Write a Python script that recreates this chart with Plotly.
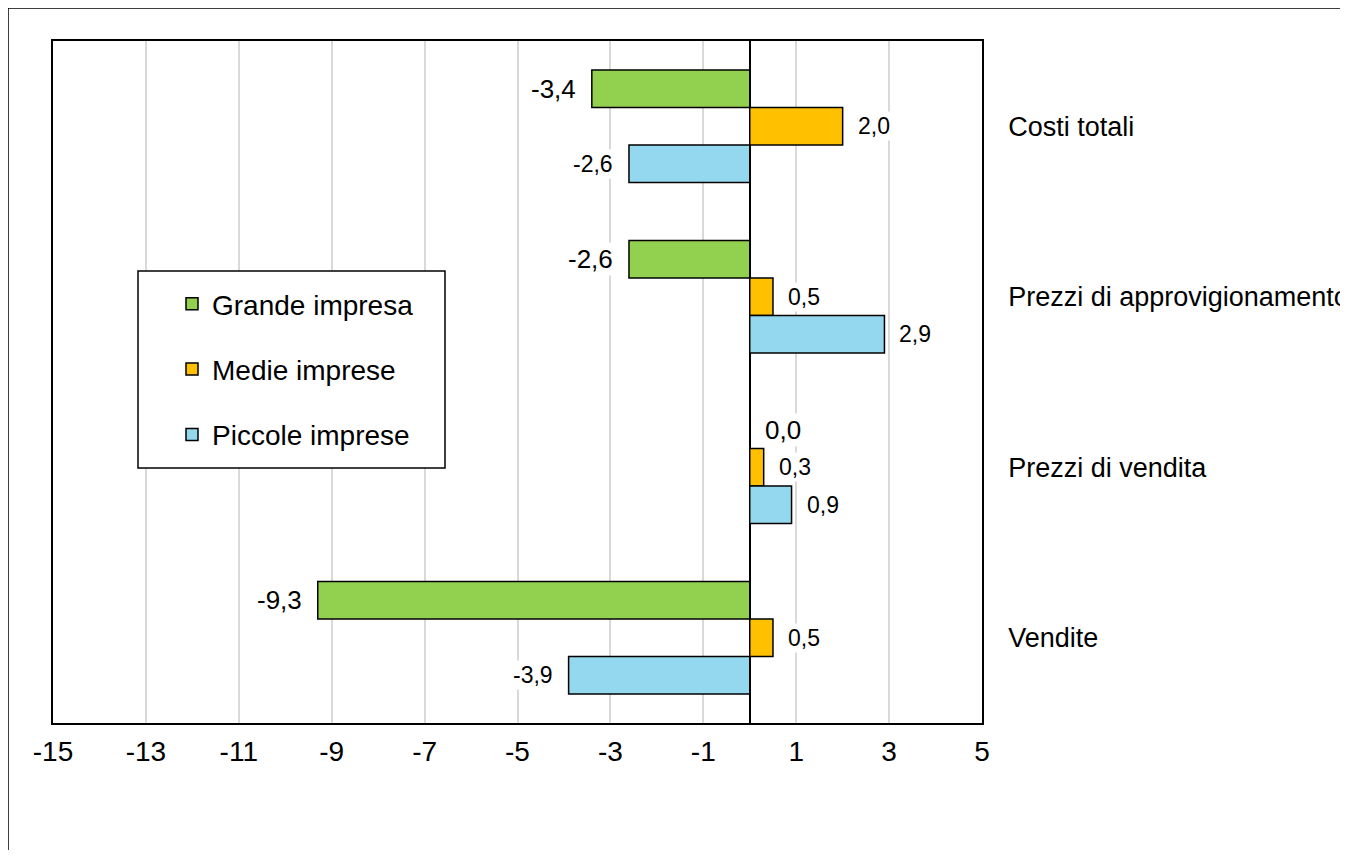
import plotly.graph_objects as go

categories = ["Costi totali", "Prezzi di approvigionamento", "Prezzi di vendita", "Vendite"]
series_names = ["Grande impresa", "Medie imprese", "Piccole imprese"]
grande = [-3.4, -2.6, 0.0, -9.3]
medie = [2.0, 0.5, 0.3, 0.5]
piccole = [-2.6, 2.9, 0.9, -3.9]
x_ticks = [-15, -13, -11, -9, -7, -5, -3, -1, 1, 3, 5]

series_values = [grande, medie, piccole]
colors = ["#92D050", "#FFC000", "#93D8EE"]
label_sizes = [26, 23, 23]
FONT = "Liberation Sans, Arial, sans-serif"
BARGAP = 0.34

# page body has an 8px margin; figure placed at (8, 8)
OFF = 8
L, T = 53 - OFF, 41 - OFF
PW, PH = 929, 682
W, H = 1340, 842

fig = go.Figure()
for name, vals, col in zip(series_names, series_values, colors):
    fig.add_trace(go.Bar(
        y=categories, x=vals, name=name, orientation="h",
        marker=dict(color=col, line=dict(color="black", width=1.5)),
        legendgroup=name,
    ))

def fmt(v):
    return f"{v:.1f}".replace(".", ",")

w = (1 - BARGAP) / 3
annotations = []
for k, vals in enumerate(series_values):
    for i, v in enumerate(vals):
        right = v >= 0
        annotations.append(dict(
            x=v, y=i + (k - 1) * w, xref="x", yref="y",
            text=fmt(v), showarrow=False,
            xanchor="left" if right else "right",
            xshift=13 if right else -14,
            font=dict(family=FONT, size=label_sizes[k], color="black"),
            bgcolor="white",
        ))

def px(xpix):
    return (xpix - 53) / PW

def py(ypix):
    return (723 - ypix) / PH

fig.update_layout(
    width=W, height=H,
    margin=dict(l=L, r=W - L - PW, t=T, b=H - T - PH, autoexpand=False),
    paper_bgcolor="white", plot_bgcolor="white",
    barmode="group", bargap=BARGAP, bargroupgap=0,
    font=dict(family=FONT, size=24, color="black"),
    annotations=annotations,
    showlegend=True,
    legend=dict(
        x=px(172), y=py(279), xanchor="left", yanchor="top",
        bgcolor="rgba(0,0,0,0)", borderwidth=0,
        font=dict(family=FONT, size=28, color="black"),
        tracegroupgap=26, traceorder="grouped",
    ),
    shapes=[
        dict(type="rect", xref="paper", yref="paper",
             x0=px(138), x1=px(445), y0=py(468), y1=py(271),
             line=dict(color="black", width=1.5), fillcolor="white", layer="above"),
        dict(type="rect", xref="paper", yref="paper",
             x0=px(8), x1=2.0, y0=-1.0, y1=py(8),
             line=dict(color="black", width=1.5), fillcolor="rgba(0,0,0,0)", layer="below"),
    ],
)
fig.update_xaxes(
    range=[-15, 5], tickvals=x_ticks, ticktext=[str(t) for t in x_ticks],
    showgrid=True, gridcolor="#d9d9d9", gridwidth=1.5,
    zeroline=True, zerolinecolor="black", zerolinewidth=1.5,
    showline=True, mirror=True, linecolor="black", linewidth=1.5,
    ticks="", ticklabelstandoff=3, automargin=False,
    tickfont=dict(family=FONT, size=28, color="black"),
)
fig.update_yaxes(
    autorange="reversed", side="right",
    showgrid=False, zeroline=False,
    showline=True, mirror=True, linecolor="black", linewidth=1.5,
    ticks="", ticklabelstandoff=19, automargin=False,
    tickfont=dict(family=FONT, size=27, color="black"),
)

fig.write_html("out.html")
